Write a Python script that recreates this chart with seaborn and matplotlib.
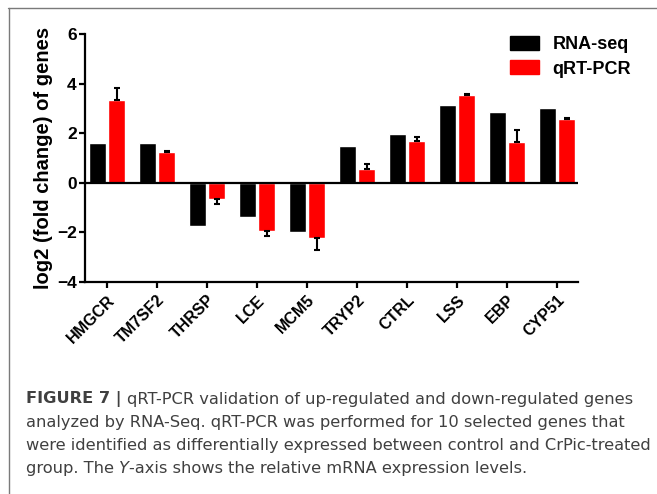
import numpy as np
import pandas as pd
import seaborn as sns
import matplotlib.pyplot as plt
from matplotlib.patches import Patch
from matplotlib.lines import Line2D

# ------------ data ------------
genes = ["HMGCR", "TM7SF2", "THRSP", "LCE", "MCM5",
         "TRYP2", "CTRL", "LSS", "EBP", "CYP51"]
rna_seq = [1.59, 1.62, -1.75, -1.39, -2.00, 1.48, 1.97, 3.12, 2.87, 3.01]
qrt_pcr = [3.35, 1.23, -0.65, -1.95, -2.24, 0.55, 1.67, 3.56, 1.63, 2.58]
qrt_err = [0.49, 0.04, 0.21, 0.18, 0.46, 0.20, 0.17, 0.03, 0.49, 0.03]
series = ["RNA-seq", "qRT-PCR"]
colors = ["#000000", "#FF0000"]

caption = [
    "analyzed by RNA-Seq. qRT-PCR was performed for 10 selected genes that",
    "were identified as differentially expressed between control and CrPic-treated",
]

df = pd.DataFrame({
    "gene": genes * 2,
    "value": rna_seq + qrt_pcr,
    "method": [series[0]] * len(genes) + [series[1]] * len(genes),
})

# ------------ figure ------------
sns.set_style("ticks")
plt.rcParams["font.family"] = ["Liberation Sans", "DejaVu Sans"]
for k in ["text.color", "axes.labelcolor", "xtick.color", "ytick.color", "axes.edgecolor"]:
    plt.rcParams[k] = "black"

fig = plt.figure(figsize=(6.57, 4.94), dpi=100)
ax = fig.add_axes([85 / 657, 1 - 282 / 494, 493 / 657, 248 / 494])

sns.barplot(data=df, x="gene", y="value", hue="method", palette=colors,
            width=0.76, gap=0.15, saturation=1, errorbar=None, ax=ax, legend=False)

# one-sided error bars on qRT-PCR (GraphPad style)
red_bars = ax.containers[1]
xs = [b.get_x() + b.get_width() / 2 for b in red_bars]
lower = [e if v < 0 else 0 for v, e in zip(qrt_pcr, qrt_err)]
upper = [e if v >= 0 else 0 for v, e in zip(qrt_pcr, qrt_err)]
ax.errorbar(xs, qrt_pcr, yerr=[lower, upper], fmt="none", ecolor="black",
            elinewidth=1.5, capsize=2.5, capthick=1.5, zorder=3)

ax.axhline(0, color="black", lw=1.6, zorder=4)

ax.set_xlim(-0.44, 9.42)
ax.set_ylim(-4, 6)
ax.set_yticks([-4, -2, 0, 2, 4, 6])
ax.set_xlabel("")
ax.set_ylabel("log2 (fold change) of genes", fontsize=14.5, fontweight="bold", labelpad=3)
sns.despine(ax=ax)
for s in ["left", "bottom"]:
    ax.spines[s].set_linewidth(1.6)
ax.tick_params(axis="both", width=1.6, length=4, direction="out")
ax.tick_params(axis="y", labelsize=12.5, pad=2)
for t in ax.get_yticklabels():
    t.set_fontweight("bold")
ax.set_xticks(range(len(genes)))
ax.set_xticklabels(genes, rotation=45, ha="right", rotation_mode="anchor",
                   fontsize=11.5, fontweight="bold")

handles = [Patch(facecolor=c, edgecolor=c, label=s) for c, s in zip(colors, series)]
fig.legend(handles=handles, loc="upper left", bbox_to_anchor=(510 / 657, 1 - 36 / 494),
           frameon=False, prop={"weight": "bold", "size": 13},
           handlelength=1.6, handleheight=0.8, handletextpad=0.75,
           labelspacing=0.4, borderpad=0, borderaxespad=0)

# ------------ caption ------------
cap_kw = dict(fontsize=11.7, color="#404040", family=["DejaVu Sans"])
x0 = 26 / 657
line_y = [1 - 403 / 494, 1 - 427 / 494, 1 - 450 / 494, 1 - 473 / 494]
p0 = fig.text(x0, line_y[0], "FIGURE 7 | ", fontweight="bold", va="baseline", **cap_kw)
ax.annotate("qRT-PCR validation of up-regulated and down-regulated genes",
            xy=(1, 0), xycoords=p0, va="bottom", annotation_clip=False, **cap_kw)
fig.text(x0, line_y[1], caption[0], va="baseline", **cap_kw)
fig.text(x0, line_y[2], caption[1], va="baseline", **cap_kw)
p1 = fig.text(x0, line_y[3], "group. The ", va="baseline", **cap_kw)
p2 = ax.annotate("Y", xy=(1, 0), xycoords=p1, va="bottom", style="italic",
                 annotation_clip=False, **cap_kw)
ax.annotate("-axis shows the relative mRNA expression levels.", xy=(1, 0), xycoords=p2,
            va="bottom", annotation_clip=False, **cap_kw)

# ------------ panel border ------------
fig.add_artist(Line2D([8.5 / 657, 8.5 / 657], [0, 1 - 8 / 494], transform=fig.transFigure,
                      color="#7a7a7a", lw=1))
fig.add_artist(Line2D([8 / 657, 1], [1 - 8.5 / 494, 1 - 8.5 / 494], transform=fig.transFigure,
                      color="#7a7a7a", lw=1))

fig.savefig("out.png", dpi=100)
